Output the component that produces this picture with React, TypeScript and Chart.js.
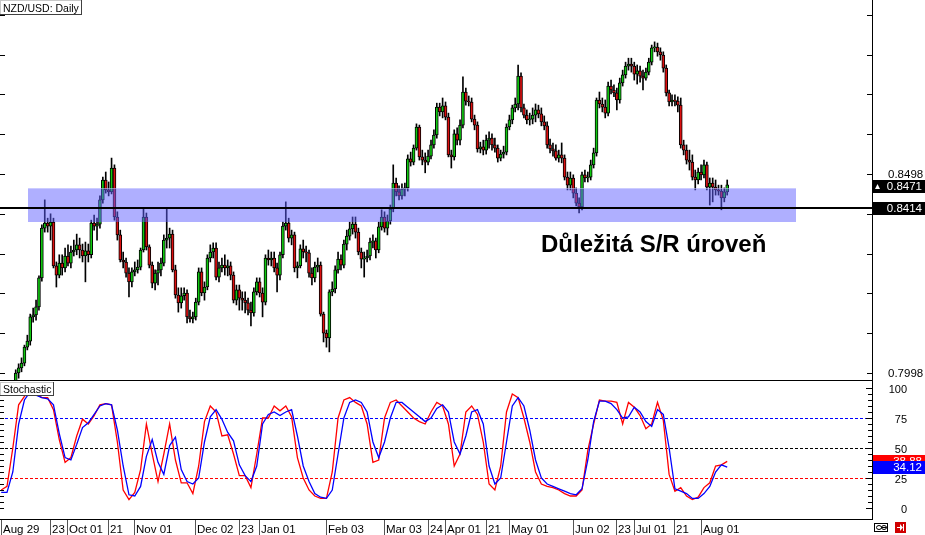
import React, { useEffect, useRef } from 'react';
import { Chart, registerables } from 'chart.js';
Chart.register(...registerables);

const FONT = '"Liberation Sans", Arial, sans-serif';

// ---- Daily NZD/USD candles (Aug 29 .. Aug 14), one entry per trading day ----
const OPEN = [
  0.7800, 0.7830, 0.7870, 0.7905, 0.7925, 0.7965, 0.7998, 0.8011, 0.8023, 0.8063,
  0.8078, 0.8139, 0.8144, 0.8164, 0.8237, 0.8362, 0.8375, 0.8367, 0.8377, 0.8267,
  0.8244, 0.8274, 0.8262, 0.8292, 0.8274, 0.8302, 0.8307, 0.8320, 0.8307, 0.8292,
  0.8305, 0.8295, 0.8375, 0.8367, 0.8372, 0.8433, 0.8483, 0.8458, 0.8453, 0.8513,
  0.8390, 0.8345, 0.8282, 0.8277, 0.8249, 0.8227, 0.8252, 0.8257, 0.8264, 0.8307,
  0.8390, 0.8315, 0.8269, 0.8224, 0.8249, 0.8257, 0.8274, 0.8332, 0.8337, 0.8347,
  0.8257, 0.8194, 0.8174, 0.8192, 0.8199, 0.8139, 0.8134, 0.8139, 0.8176, 0.8252,
  0.8199, 0.8214, 0.8287, 0.8302, 0.8312, 0.8239, 0.8262, 0.8269, 0.8262, 0.8267,
  0.8244, 0.8181, 0.8207, 0.8186, 0.8181, 0.8174, 0.8156, 0.8149, 0.8202, 0.8227,
  0.8199, 0.8176, 0.8287, 0.8282, 0.8287, 0.8262, 0.8244, 0.8295, 0.8367, 0.8375,
  0.8337, 0.8345, 0.8262, 0.8267, 0.8310, 0.8302, 0.8300, 0.8249, 0.8237, 0.8264,
  0.8269, 0.8146, 0.8098, 0.8086, 0.8202, 0.8209, 0.8257, 0.8284, 0.8269, 0.8322,
  0.8342, 0.8360, 0.8372, 0.8352, 0.8302, 0.8284, 0.8287, 0.8292, 0.8327, 0.8330,
  0.8307, 0.8365, 0.8390, 0.8362, 0.8380, 0.8410, 0.8475, 0.8453, 0.8443, 0.8460,
  0.8463, 0.8536, 0.8528, 0.8563, 0.8616, 0.8541, 0.8533, 0.8528, 0.8543, 0.8571,
  0.8596, 0.8666, 0.8654, 0.8669, 0.8641, 0.8546, 0.8541, 0.8599, 0.8583, 0.8621,
  0.8704, 0.8681, 0.8679, 0.8636, 0.8621, 0.8561, 0.8566, 0.8558, 0.8583, 0.8588,
  0.8571, 0.8563, 0.8538, 0.8548, 0.8553, 0.8616, 0.8634, 0.8664, 0.8674, 0.8744,
  0.8664, 0.8646, 0.8634, 0.8636, 0.8646, 0.8659, 0.8649, 0.8629, 0.8619, 0.8571,
  0.8561, 0.8556, 0.8538, 0.8546, 0.8538, 0.8490, 0.8470, 0.8488, 0.8450, 0.8425,
  0.8415, 0.8496, 0.8488, 0.8490, 0.8521, 0.8551, 0.8684, 0.8674, 0.8666, 0.8651,
  0.8719, 0.8709, 0.8702, 0.8684, 0.8727, 0.8747, 0.8769, 0.8774, 0.8769, 0.8749,
  0.8757, 0.8744, 0.8739, 0.8754, 0.8779, 0.8815, 0.8817, 0.8805, 0.8797, 0.8764,
  0.8702, 0.8679, 0.8684, 0.8681, 0.8671, 0.8571, 0.8558, 0.8533, 0.8528, 0.8490,
  0.8483, 0.8503, 0.8496, 0.8521, 0.8465, 0.8475, 0.8465, 0.8458, 0.8455, 0.8438,
  0.8453,
];
const HIGH = [
  0.7850, 0.7885, 0.7920, 0.7940, 0.7975, 0.8006, 0.8021, 0.8036, 0.8068, 0.8093,
  0.8146, 0.8161, 0.8181, 0.8242, 0.8370, 0.8433, 0.8387, 0.8398, 0.8387, 0.8277,
  0.8295, 0.8295, 0.8312, 0.8320, 0.8317, 0.8332, 0.8347, 0.8337, 0.8322, 0.8327,
  0.8322, 0.8382, 0.8395, 0.8387, 0.8443, 0.8490, 0.8503, 0.8478, 0.8538, 0.8521,
  0.8403, 0.8357, 0.8302, 0.8287, 0.8262, 0.8262, 0.8277, 0.8282, 0.8312, 0.8413,
  0.8400, 0.8320, 0.8277, 0.8257, 0.8277, 0.8287, 0.8345, 0.8410, 0.8362, 0.8357,
  0.8269, 0.8212, 0.8212, 0.8212, 0.8207, 0.8156, 0.8151, 0.8186, 0.8262, 0.8262,
  0.8227, 0.8295, 0.8320, 0.8325, 0.8325, 0.8277, 0.8287, 0.8295, 0.8282, 0.8277,
  0.8252, 0.8219, 0.8219, 0.8202, 0.8202, 0.8186, 0.8176, 0.8212, 0.8237, 0.8237,
  0.8212, 0.8295, 0.8307, 0.8302, 0.8302, 0.8274, 0.8302, 0.8377, 0.8428, 0.8387,
  0.8357, 0.8352, 0.8277, 0.8320, 0.8332, 0.8317, 0.8307, 0.8262, 0.8277, 0.8287,
  0.8277, 0.8151, 0.8106, 0.8207, 0.8227, 0.8267, 0.8302, 0.8295, 0.8332, 0.8357,
  0.8377, 0.8390, 0.8390, 0.8362, 0.8312, 0.8302, 0.8307, 0.8337, 0.8345, 0.8337,
  0.8377, 0.8408, 0.8403, 0.8395, 0.8420, 0.8521, 0.8488, 0.8468, 0.8473, 0.8475,
  0.8546, 0.8553, 0.8571, 0.8624, 0.8621, 0.8558, 0.8551, 0.8558, 0.8583, 0.8609,
  0.8676, 0.8676, 0.8689, 0.8679, 0.8651, 0.8558, 0.8609, 0.8614, 0.8634, 0.8742,
  0.8714, 0.8694, 0.8689, 0.8646, 0.8629, 0.8578, 0.8583, 0.8596, 0.8604, 0.8599,
  0.8588, 0.8571, 0.8558, 0.8568, 0.8624, 0.8646, 0.8671, 0.8689, 0.8772, 0.8752,
  0.8674, 0.8659, 0.8651, 0.8664, 0.8674, 0.8671, 0.8664, 0.8644, 0.8629, 0.8586,
  0.8576, 0.8571, 0.8558, 0.8576, 0.8546, 0.8503, 0.8503, 0.8496, 0.8463, 0.8438,
  0.8503, 0.8508, 0.8503, 0.8533, 0.8563, 0.8689, 0.8704, 0.8689, 0.8684, 0.8729,
  0.8734, 0.8722, 0.8714, 0.8739, 0.8759, 0.8779, 0.8789, 0.8789, 0.8779, 0.8772,
  0.8769, 0.8759, 0.8764, 0.8789, 0.8822, 0.8830, 0.8827, 0.8815, 0.8805, 0.8772,
  0.8709, 0.8697, 0.8697, 0.8692, 0.8689, 0.8583, 0.8571, 0.8558, 0.8546, 0.8508,
  0.8513, 0.8521, 0.8533, 0.8528, 0.8488, 0.8488, 0.8483, 0.8470, 0.8470, 0.8463,
  0.8483,
];
const LOW = [
  0.7780, 0.7815, 0.7860, 0.7890, 0.7915, 0.7955, 0.7985, 0.8001, 0.8016, 0.8056,
  0.8068, 0.8126, 0.8131, 0.8156, 0.8229, 0.8352, 0.8352, 0.8332, 0.8262, 0.8214,
  0.8237, 0.8244, 0.8252, 0.8267, 0.8262, 0.8292, 0.8295, 0.8287, 0.8277, 0.8227,
  0.8277, 0.8287, 0.8357, 0.8332, 0.8362, 0.8425, 0.8450, 0.8443, 0.8448, 0.8382,
  0.8332, 0.8277, 0.8262, 0.8239, 0.8189, 0.8214, 0.8242, 0.8249, 0.8257, 0.8302,
  0.8307, 0.8262, 0.8212, 0.8207, 0.8219, 0.8242, 0.8267, 0.8312, 0.8312, 0.8252,
  0.8186, 0.8151, 0.8161, 0.8181, 0.8124, 0.8126, 0.8124, 0.8131, 0.8169, 0.8192,
  0.8181, 0.8207, 0.8277, 0.8287, 0.8232, 0.8227, 0.8252, 0.8244, 0.8242, 0.8232,
  0.8174, 0.8169, 0.8156, 0.8156, 0.8149, 0.8144, 0.8116, 0.8141, 0.8194, 0.8189,
  0.8139, 0.8169, 0.8269, 0.8267, 0.8252, 0.8202, 0.8232, 0.8287, 0.8357, 0.8327,
  0.8320, 0.8252, 0.8237, 0.8262, 0.8287, 0.8277, 0.8239, 0.8219, 0.8227, 0.8252,
  0.8141, 0.8076, 0.8063, 0.8051, 0.8192, 0.8199, 0.8249, 0.8257, 0.8262, 0.8307,
  0.8332, 0.8347, 0.8337, 0.8295, 0.8262, 0.8239, 0.8277, 0.8282, 0.8312, 0.8287,
  0.8300, 0.8357, 0.8352, 0.8345, 0.8372, 0.8403, 0.8443, 0.8433, 0.8435, 0.8443,
  0.8455, 0.8518, 0.8521, 0.8558, 0.8533, 0.8521, 0.8501, 0.8521, 0.8536, 0.8563,
  0.8588, 0.8644, 0.8639, 0.8634, 0.8541, 0.8513, 0.8533, 0.8571, 0.8571, 0.8614,
  0.8671, 0.8669, 0.8629, 0.8609, 0.8553, 0.8551, 0.8546, 0.8548, 0.8563, 0.8558,
  0.8553, 0.8528, 0.8531, 0.8538, 0.8546, 0.8609, 0.8624, 0.8654, 0.8659, 0.8654,
  0.8639, 0.8624, 0.8621, 0.8624, 0.8629, 0.8639, 0.8619, 0.8609, 0.8563, 0.8551,
  0.8543, 0.8533, 0.8528, 0.8526, 0.8483, 0.8458, 0.8458, 0.8438, 0.8418, 0.8400,
  0.8408, 0.8478, 0.8478, 0.8483, 0.8513, 0.8543, 0.8664, 0.8654, 0.8639, 0.8644,
  0.8699, 0.8692, 0.8659, 0.8676, 0.8719, 0.8739, 0.8759, 0.8754, 0.8734, 0.8724,
  0.8729, 0.8709, 0.8734, 0.8747, 0.8772, 0.8805, 0.8794, 0.8784, 0.8754, 0.8694,
  0.8669, 0.8669, 0.8669, 0.8654, 0.8563, 0.8546, 0.8523, 0.8508, 0.8483, 0.8458,
  0.8473, 0.8483, 0.8488, 0.8458, 0.8420, 0.8428, 0.8445, 0.8445, 0.8408, 0.8428,
  0.8445,
];
const CLOSE = [
  0.7830, 0.7870, 0.7905, 0.7925, 0.7965, 0.7998, 0.8011, 0.8023, 0.8063, 0.8078,
  0.8139, 0.8144, 0.8164, 0.8237, 0.8362, 0.8375, 0.8367, 0.8377, 0.8267, 0.8244,
  0.8274, 0.8262, 0.8292, 0.8274, 0.8302, 0.8307, 0.8320, 0.8307, 0.8292, 0.8305,
  0.8295, 0.8375, 0.8367, 0.8372, 0.8433, 0.8483, 0.8458, 0.8453, 0.8513, 0.8390,
  0.8345, 0.8282, 0.8277, 0.8249, 0.8227, 0.8252, 0.8257, 0.8264, 0.8307, 0.8390,
  0.8315, 0.8269, 0.8224, 0.8249, 0.8257, 0.8274, 0.8332, 0.8337, 0.8347, 0.8257,
  0.8194, 0.8174, 0.8192, 0.8199, 0.8139, 0.8134, 0.8139, 0.8176, 0.8252, 0.8199,
  0.8214, 0.8287, 0.8302, 0.8312, 0.8239, 0.8262, 0.8269, 0.8262, 0.8267, 0.8244,
  0.8181, 0.8207, 0.8186, 0.8181, 0.8174, 0.8156, 0.8149, 0.8202, 0.8227, 0.8199,
  0.8176, 0.8287, 0.8282, 0.8287, 0.8262, 0.8244, 0.8295, 0.8367, 0.8375, 0.8337,
  0.8345, 0.8262, 0.8267, 0.8310, 0.8302, 0.8300, 0.8249, 0.8237, 0.8264, 0.8269,
  0.8146, 0.8098, 0.8086, 0.8202, 0.8209, 0.8257, 0.8284, 0.8269, 0.8322, 0.8342,
  0.8360, 0.8372, 0.8352, 0.8302, 0.8284, 0.8287, 0.8292, 0.8327, 0.8330, 0.8307,
  0.8365, 0.8390, 0.8362, 0.8380, 0.8410, 0.8475, 0.8453, 0.8443, 0.8460, 0.8463,
  0.8536, 0.8528, 0.8563, 0.8616, 0.8541, 0.8533, 0.8528, 0.8543, 0.8571, 0.8596,
  0.8666, 0.8654, 0.8669, 0.8641, 0.8546, 0.8541, 0.8599, 0.8583, 0.8621, 0.8704,
  0.8681, 0.8679, 0.8636, 0.8621, 0.8561, 0.8566, 0.8558, 0.8583, 0.8588, 0.8571,
  0.8563, 0.8538, 0.8548, 0.8553, 0.8616, 0.8634, 0.8664, 0.8674, 0.8744, 0.8664,
  0.8646, 0.8634, 0.8636, 0.8646, 0.8659, 0.8649, 0.8629, 0.8619, 0.8571, 0.8561,
  0.8556, 0.8538, 0.8546, 0.8538, 0.8490, 0.8470, 0.8488, 0.8450, 0.8425, 0.8415,
  0.8496, 0.8488, 0.8490, 0.8521, 0.8551, 0.8684, 0.8674, 0.8666, 0.8651, 0.8719,
  0.8709, 0.8702, 0.8684, 0.8727, 0.8747, 0.8769, 0.8774, 0.8769, 0.8749, 0.8757,
  0.8744, 0.8739, 0.8754, 0.8779, 0.8815, 0.8817, 0.8805, 0.8797, 0.8764, 0.8702,
  0.8679, 0.8684, 0.8681, 0.8671, 0.8571, 0.8558, 0.8533, 0.8528, 0.8490, 0.8483,
  0.8503, 0.8496, 0.8521, 0.8465, 0.8475, 0.8465, 0.8458, 0.8455, 0.8438, 0.8453,
  0.8471,
];

// ---- Stochastic oscillator, sampled every STOCH_STEP bars ----
const STOCH_STEP = 2;
const STOCH_MAIN = [
  15, 18, 50, 86, 93, 98, 95, 92, 92, 82,
  57, 38, 42, 60, 74, 70, 77, 86, 87, 86,
  55, 15, 7, 13, 32, 70, 45, 22, 45, 70,
  40, 21, 21, 12, 35, 72, 85, 80, 60, 61,
  45, 27, 27, 17, 45, 75, 75, 85, 81, 85,
  76, 42, 25, 15, 10, 8, 8, 30, 75, 90,
  92, 88, 85, 70, 38, 40, 75, 88, 90, 85,
  80, 75, 72, 70, 80, 88, 85, 70, 35, 45,
  80, 85, 78, 55, 20, 15, 35, 80, 95, 92,
  75, 55, 30, 20, 18, 17, 15, 12, 10, 10,
  15, 48, 70, 90, 89, 89, 88, 70, 88, 84,
  77, 66, 70, 88, 73, 28, 14, 17, 10, 7,
  9, 17, 21, 35, 36, 38.88,
];
const STOCH_SIGNAL = [
  13, 13, 30, 70, 90, 97, 94, 92, 91, 86,
  62, 42, 40, 53, 67, 71, 78, 85, 87, 86,
  65, 35, 11, 10, 18, 43, 57, 38, 28, 52,
  59, 32, 22, 20, 25, 55, 76, 82, 74, 63,
  56, 36, 27, 22, 35, 70, 78, 80, 77, 80,
  82, 60, 35, 22, 12, 9, 8, 15, 45, 75,
  88, 90, 88, 80, 55, 42, 55, 75, 88, 88,
  84, 80, 76, 72, 75, 83, 86, 80, 55, 45,
  60, 80, 82, 70, 35, 20, 25, 55, 85, 92,
  85, 65, 40, 25, 20, 18, 16, 14, 12, 11,
  16, 40, 72, 89, 89, 87, 82, 75, 76, 84,
  80, 72, 68, 82, 78, 50, 16, 14, 12, 8,
  8, 12, 18, 30, 36, 34.12,
];
const STOCH_LEVELS = [75, 50, 25];
const STOCH_LEVEL_COLORS = ['#0000ff', '#000000', '#ff0000'];
const STOCH_TICK_LABELS = [100, 75, 50, 25, 0];

// ---- axes ----
const X_LABELS = ['Aug 29', '23', 'Oct 01', '21', 'Nov 01', 'Dec 02', '23', 'Jan 01', 'Feb 03', 'Mar 03', '24', 'Apr 01', '21', 'May 01', 'Jun 02', '23', 'Jul 01', '21', 'Aug 01'];
const X_LABEL_BARS = [0, 17, 23, 37, 46, 67, 82, 89, 112, 132, 147, 153, 167, 175, 197, 212, 218, 232, 241];
const PRICE_TICKS = [0.7998, 0.8098, 0.8198, 0.8298, 0.8398, 0.8498, 0.8598, 0.8698, 0.8798, 0.8898];
const PRICE_LABELS = [0.8498, 0.7998];
const PRICE_MIN = 0.79804;
const PRICE_MAX = 0.89327;
const X_MIN = -0.413;
const X_MAX = 299.86;

// ---- annotations ----
const SR_LEVEL = 0.8414;
const SR_ZONE_LOW = 0.8377;
const SR_ZONE_HIGH = 0.8463;
const SR_ZONE_FROM_BAR = 9.1;
const SR_ZONE_TO_BAR = 273.6;
const LAST_PRICE = 0.8471;
const TITLE = 'NZD/USD: Daily';
const ANNOTATION = 'Důležitá S/R úroveň';

const GREEN = '#10c810';
const RED = '#dc1010';

function labelBox(ctx: CanvasRenderingContext2D, x: number, y: number, w: number, h: number, text: string) {
  ctx.fillStyle = '#fff';
  ctx.fillRect(x, y, w, h);
  ctx.fillStyle = '#c8c8c8';
  ctx.fillRect(x, y, w, 1);
  ctx.fillRect(x, y, 1, h);
  ctx.fillStyle = '#404040';
  ctx.fillRect(x + w - 1, y, 1, h);
  ctx.fillRect(x, y + h - 1, w, 1);
  ctx.fillStyle = '#000';
  ctx.font = `10.5px ${FONT}`;
  ctx.textAlign = 'left';
  ctx.textBaseline = 'alphabetic';
  ctx.fillText(text, x + 3, y + h - 3);
}

function valueBox(ctx: CanvasRenderingContext2D, left: number, py: number, bg: string, text: string, triangle: boolean) {
  const top = Math.round(py) - 6;
  ctx.fillStyle = bg;
  ctx.fillRect(left, top, 925 - left, 13);
  ctx.fillStyle = '#fff';
  ctx.font = `11.5px ${FONT}`;
  ctx.textAlign = 'right';
  ctx.textBaseline = 'middle';
  ctx.fillText(text, 922, top + 7);
  if (triangle) {
    ctx.beginPath();
    ctx.moveTo(left + 2, top + 9);
    ctx.lineTo(left + 7, top + 9);
    ctx.lineTo(left + 4.5, top + 4);
    ctx.closePath();
    ctx.fill();
  }
}

const priceOverlay = {
  id: 'priceOverlay',
  afterDatasetsDraw(chart: any) {
    const { ctx, chartArea: a, scales } = chart;
    const x = scales.x, y = scales.y;
    ctx.save();
    const zx1 = x.getPixelForValue(SR_ZONE_FROM_BAR);
    const zx2 = x.getPixelForValue(SR_ZONE_TO_BAR);
    const zy1 = Math.round(y.getPixelForValue(SR_ZONE_HIGH));
    const zy2 = Math.round(y.getPixelForValue(SR_ZONE_LOW));
    ctx.fillStyle = 'rgba(96,96,255,0.5)';
    ctx.fillRect(Math.round(zx1), zy1, Math.round(zx2 - zx1), zy2 - zy1);
    ctx.fillStyle = 'rgba(255,255,255,0.35)';
    ctx.fillRect(Math.round(zx1), zy1, Math.round(zx2 - zx1), 1);
    const ly = Math.round(y.getPixelForValue(SR_LEVEL));
    ctx.fillStyle = '#000';
    ctx.fillRect(a.left, ly, a.right - a.left, 2);
    ctx.font = `bold 24px ${FONT}`;
    ctx.textAlign = 'left';
    ctx.textBaseline = 'alphabetic';
    ctx.fillText(ANNOTATION, 541, 252);
    ctx.restore();
  },
  afterDraw(chart: any) {
    const { ctx, chartArea: a, scales } = chart;
    const y = scales.y;
    ctx.save();
    ctx.fillStyle = '#000';
    ctx.fillRect(a.right, 0, 1, chart.height);
    ctx.fillRect(0, a.bottom, a.right, 1);
    for (const t of PRICE_TICKS) {
      const py = Math.round(y.getPixelForValue(t));
      ctx.fillRect(0, py, 5, 1);
      ctx.fillRect(a.right - 5, py, 5, 1);
    }
    ctx.font = `11.5px ${FONT}`;
    ctx.textAlign = 'left';
    ctx.textBaseline = 'middle';
    for (const t of PRICE_LABELS) {
      ctx.fillStyle = '#000';
      ctx.fillText(t.toFixed(4), 888, y.getPixelForValue(t) + 1);
    }
    valueBox(ctx, a.right + 1, y.getPixelForValue(LAST_PRICE) + 1, '#000', LAST_PRICE.toFixed(4), true);
    valueBox(ctx, a.right + 1, y.getPixelForValue(SR_LEVEL) + 1, '#000', SR_LEVEL.toFixed(4), false);
    labelBox(ctx, 0, 0, 82, 15, TITLE);
    ctx.restore();
  },
};

const stochOverlay = {
  id: 'stochOverlay',
  beforeDatasetsDraw(chart: any) {
    const { ctx, chartArea: a, scales } = chart;
    const y = scales.y;
    ctx.save();
    ctx.setLineDash([3, 2]);
    ctx.lineWidth = 1;
    STOCH_LEVELS.forEach((v, k) => {
      const py = Math.round(y.getPixelForValue(v)) + 0.5;
      ctx.strokeStyle = STOCH_LEVEL_COLORS[k];
      ctx.beginPath();
      ctx.moveTo(a.left, py);
      ctx.lineTo(a.right, py);
      ctx.stroke();
    });
    ctx.restore();
  },
  afterDraw(chart: any) {
    const { ctx, chartArea: a, scales } = chart;
    const x = scales.x, y = scales.y;
    ctx.save();
    ctx.fillStyle = '#000';
    ctx.fillRect(a.right, 0, 1, a.bottom + 1);
    ctx.fillRect(0, a.bottom, a.right + 1, 1);
    for (let v = 0; v <= 100; v += 5) {
      const py = Math.round(y.getPixelForValue(v));
      const major = v % 25 === 0;
      ctx.fillRect(0, py, 4, 1);
      ctx.fillRect(a.right - (major ? 6 : 4), py, major ? 6 : 4, 1);
    }
    ctx.font = `11px ${FONT}`;
    ctx.textAlign = 'right';
    ctx.textBaseline = 'middle';
    for (const v of STOCH_TICK_LABELS) {
      ctx.fillText(String(v), 907, y.getPixelForValue(v) + 2);
    }
    const lastMain = STOCH_MAIN[STOCH_MAIN.length - 1];
    const lastSig = STOCH_SIGNAL[STOCH_SIGNAL.length - 1];
    valueBox(ctx, a.right + 1, y.getPixelForValue(lastMain), '#ff0000', lastMain.toFixed(2), false);
    valueBox(ctx, a.right + 1, y.getPixelForValue(lastSig), '#0000ff', lastSig.toFixed(2), false);
    // time axis
    ctx.font = `11.5px ${FONT}`;
    ctx.textAlign = 'left';
    ctx.textBaseline = 'alphabetic';
    X_LABEL_BARS.forEach((b, k) => {
      const sx = Math.max(0, Math.round(x.getPixelForValue(b) - 0.5));
      ctx.fillStyle = '#555';
      ctx.fillRect(sx, a.bottom + 1, 1, chart.height - a.bottom);
      ctx.fillStyle = '#000';
      ctx.fillText(X_LABELS[k], sx + 2, chart.height - 2);
    });
    // small toolbar icons
    ctx.fillStyle = '#fff';
    ctx.strokeStyle = '#000';
    ctx.lineWidth = 1;
    ctx.fillRect(874, a.bottom + 4, 14, 9);
    ctx.strokeRect(874.5, a.bottom + 4.5, 13, 8);
    ctx.beginPath();
    ctx.ellipse(879, a.bottom + 8.5, 2.5, 2, 0, 0, Math.PI * 2);
    ctx.ellipse(884, a.bottom + 8.5, 2.5, 2, 0, 0, Math.PI * 2);
    ctx.stroke();
    ctx.fillStyle = '#d00000';
    ctx.fillRect(895, a.bottom + 3, 11, 11);
    ctx.fillStyle = '#fff';
    ctx.fillRect(897, a.bottom + 8, 5, 1);
    ctx.beginPath();
    ctx.moveTo(900, a.bottom + 5);
    ctx.lineTo(903, a.bottom + 8.5);
    ctx.lineTo(900, a.bottom + 12);
    ctx.closePath();
    ctx.fill();
    ctx.fillRect(903, a.bottom + 5, 1, 7);
    labelBox(ctx, 0, 1, 54, 14, 'Stochastic');
    ctx.restore();
  },
};

export default function App() {
  const priceRef = useRef<HTMLCanvasElement>(null);
  const stochRef = useRef<HTMLCanvasElement>(null);

  useEffect(() => {
    const bodyColors = CLOSE.map((c, i) => (c >= OPEN[i] ? GREEN : RED));
    const priceChart = new Chart(priceRef.current as HTMLCanvasElement, {
      type: 'bar',
      data: {
        datasets: [
          {
            label: 'body',
            data: CLOSE.map((c, i) => ({ x: i, y: [OPEN[i], c] })) as any,
            backgroundColor: bodyColors,
            borderColor: '#000',
            borderWidth: 1,
            borderSkipped: false,
            barThickness: 3,
            minBarLength: 1,
            grouped: false,
            order: 0,
          } as any,
          {
            label: 'wick',
            data: HIGH.map((h, i) => ({ x: i, y: [LOW[i], h] })) as any,
            backgroundColor: '#000',
            borderWidth: 0,
            barThickness: 1,
            grouped: false,
            order: 1,
          } as any,
        ],
      },
      options: {
        responsive: false,
        animation: false,
        devicePixelRatio: 1,
        layout: { padding: { left: 0, right: 53, top: 1, bottom: 1 } },
        scales: {
          x: { type: 'linear', min: X_MIN, max: X_MAX, display: false, offset: false },
          y: { type: 'linear', min: PRICE_MIN, max: PRICE_MAX, display: false },
        },
        plugins: { legend: { display: false }, tooltip: { enabled: false } },
      } as any,
      plugins: [priceOverlay],
    });

    const stochChart = new Chart(stochRef.current as HTMLCanvasElement, {
      type: 'line',
      data: {
        datasets: [
          {
            label: 'signal',
            data: STOCH_SIGNAL.map((v, j) => ({ x: j * STOCH_STEP, y: v })),
            borderColor: '#0000ff',
            borderWidth: 1.3,
            pointRadius: 0,
            tension: 0,
            order: 0,
          },
          {
            label: 'main',
            data: STOCH_MAIN.map((v, j) => ({ x: j * STOCH_STEP, y: v })),
            borderColor: '#ff0000',
            borderWidth: 1.3,
            pointRadius: 0,
            tension: 0,
            order: 1,
          },
        ],
      },
      options: {
        responsive: false,
        animation: false,
        devicePixelRatio: 1,
        layout: { padding: { left: 0, right: 53, top: 0, bottom: 16 } },
        scales: {
          x: { type: 'linear', min: X_MIN, max: X_MAX, display: false },
          y: { type: 'linear', min: -9.17, max: 105.83, display: false },
        },
        plugins: { legend: { display: false }, tooltip: { enabled: false } },
      } as any,
      plugins: [stochOverlay],
    });

    return () => {
      priceChart.destroy();
      stochChart.destroy();
    };
  }, []);

  return (
    <div style={{ position: 'fixed', left: 0, top: 0, width: 925, height: 535, background: '#fff' }}>
      <canvas ref={priceRef} width={925} height={381} style={{ position: 'absolute', left: 0, top: 0, width: 925, height: 381 }} />
      <canvas ref={stochRef} width={925} height={154} style={{ position: 'absolute', left: 0, top: 381, width: 925, height: 154 }} />
    </div>
  );
}
